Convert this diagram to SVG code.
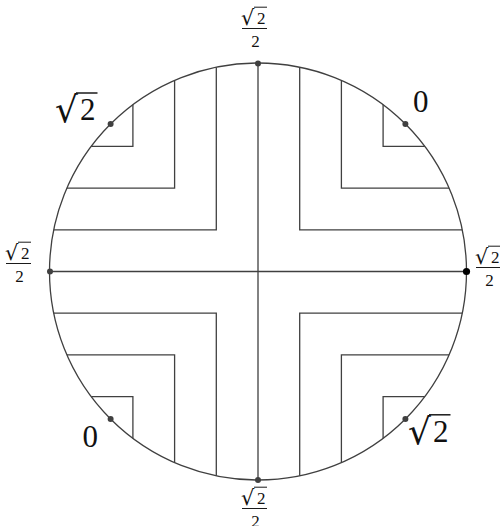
<svg xmlns="http://www.w3.org/2000/svg" width="500" height="526" viewBox="0 0 500 526">
<style>
.ln{fill:none;stroke:#404040;stroke-width:1.3}
.bar{stroke:#1a1a1a;stroke-width:1}
.vb{stroke:#1a1a1a;stroke-width:1.5}
.t{font-family:"Liberation Serif","DejaVu Serif",serif;fill:#111}
.r{font-family:"DejaVu Serif",serif;fill:#111}
.s{font-size:17px}
.b{font-size:31px}
.dot{fill:#404040}
</style>
<defs>
<g id="frac">
<text class="r" font-size="21" x="-1" y="-4">√</text>
<text class="t s" x="15" y="-4.5">2</text>
<line class="bar" x1="12" y1="-21.3" x2="25" y2="-21.3"/>
<line class="bar" x1="0" y1="0" x2="25" y2="0"/>
<text class="t s" x="13.5" y="18.2" text-anchor="middle">2</text>
</g>
</defs>
<rect width="500" height="526" fill="#fff"/>
<g id="connectors">
<circle class="ln" cx="258" cy="271.5" r="208.5"/>
<path class="ln" d="M258 63V480M49.5 271.5H466.5"/>
<path class="ln" d="M216.3 67.21V229.8H53.71M174.6 80.41V188.1H66.91M132.9 104.7V146.4H91.2"/>
<path class="ln" d="M299.7 67.21V229.8H462.29M341.4 80.41V188.1H449.09M383.1 104.7V146.4H424.8"/>
<path class="ln" d="M216.3 475.79V313.2H53.71M174.6 462.59V354.9H66.91M132.9 438.3V396.6H91.2"/>
<path class="ln" d="M299.7 475.79V313.2H462.29M341.4 462.59V354.9H449.09M383.1 438.3V396.6H424.8"/>
</g>
<g id="node-top"><circle class="dot" cx="258" cy="63.5" r="3"/><use href="#frac" x="242" y="28.5"/></g>
<g id="node-left"><circle class="dot" cx="50" cy="271.5" r="3"/><use href="#frac" x="6" y="263.5"/></g>
<g id="node-right"><circle cx="466.5" cy="271.5" r="3.6" fill="#000"/><use href="#frac" x="476" y="267.5"/></g>
<g id="node-bottom"><circle class="dot" cx="258" cy="480" r="3"/><use href="#frac" x="242" y="508.5"/></g>
<g id="node-tl"><circle class="dot" cx="110.6" cy="124.1" r="3"/>
<text class="r" font-size="36" x="55" y="122">√</text><text class="t b" x="80" y="119.5">2</text>
<line class="vb" x1="76" y1="93" x2="97.5" y2="93"/></g>
<g id="node-tr"><circle class="dot" cx="405.4" cy="124.1" r="3"/><text class="t b" x="413" y="112">0</text></g>
<g id="node-bl"><circle class="dot" cx="110.6" cy="418.9" r="3"/><text class="t b" x="82.5" y="446.7">0</text></g>
<g id="node-br"><circle class="dot" cx="405.4" cy="418.9" r="3"/>
<text class="r" font-size="36" x="408" y="444">√</text><text class="t b" x="433" y="441.5">2</text>
<line class="vb" x1="429" y1="414.8" x2="450.5" y2="414.8"/></g>
</svg>
